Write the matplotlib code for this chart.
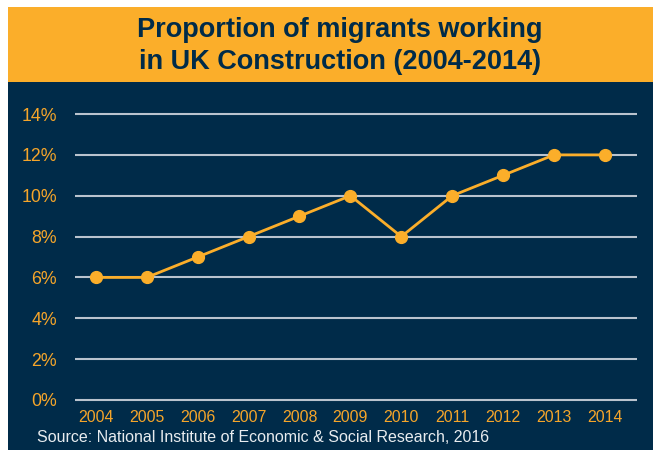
import matplotlib.pyplot as plt
from matplotlib.patches import Rectangle

# data
years = [2004, 2005, 2006, 2007, 2008, 2009, 2010, 2011, 2012, 2013, 2014]
share = [6, 6, 7, 8, 9, 10, 8, 10, 11, 12, 12]
y_ticks = [0, 2, 4, 6, 8, 10, 12, 14]

orange = '#FBAE2A'
navy = '#002B49'
label_col = '#F5A52A'

plt.rcParams['font.family'] = ['Liberation Sans', 'DejaVu Sans']

fig = plt.figure(figsize=(6.53, 4.5), dpi=100)
fig.patch.set_facecolor('white')

# title band and dark panel (behind the axes)
W, H = 653.0, 450.0
fig.add_artist(Rectangle((8 / W, (H - 82) / H), 1 - 8 / W, 75 / H,
                         transform=fig.transFigure, facecolor=orange, edgecolor='none',
                         zorder=-2))
fig.add_artist(Rectangle((8 / W, 0), 1 - 8 / W, (H - 82) / H,
                         transform=fig.transFigure, facecolor=navy, edgecolor='none',
                         zorder=-2))

fig.text(340 / W, 1 - 46 / H, 'Proportion of migrants working\nin UK Construction (2004-2014)',
         ha='center', va='center', fontsize=19.5, fontweight='bold', color=navy,
         linespacing=1.3)

# a little slack on y so the 0% and 14% gridlines are not clipped
ax = fig.add_axes([75 / W, 48 / H, (637 - 75) / W, 290 / H])
ax.patch.set_alpha(0)
ax.set_xlim(2003.59, 2014.63)
ax.set_ylim(-0.1, 14.1)
ax.set_yticks(y_ticks)
ax.set_yticklabels(['{}%'.format(v) for v in y_ticks])
ax.set_xticks(years)
ax.set_xticklabels([str(y) for y in years])
ax.grid(axis='y', color='#B9C3CE', linewidth=1.5)
ax.set_axisbelow(True)
for s in ax.spines.values():
    s.set_visible(False)
ax.tick_params(axis='y', length=0, pad=13, labelsize=12.8, labelcolor=label_col)
ax.tick_params(axis='x', length=0, pad=6, labelsize=11.4, labelcolor=label_col)

ax.plot(years, share, color=orange, linewidth=2, marker='o', markersize=8.5,
        clip_on=False, zorder=3)

fig.text(37 / W, 1 - 438 / H, 'Source: National Institute of Economic & Social Research, 2016',
         ha='left', va='center', fontsize=11.5, color='#E8ECEF')

fig.savefig('out.png', dpi=100)
